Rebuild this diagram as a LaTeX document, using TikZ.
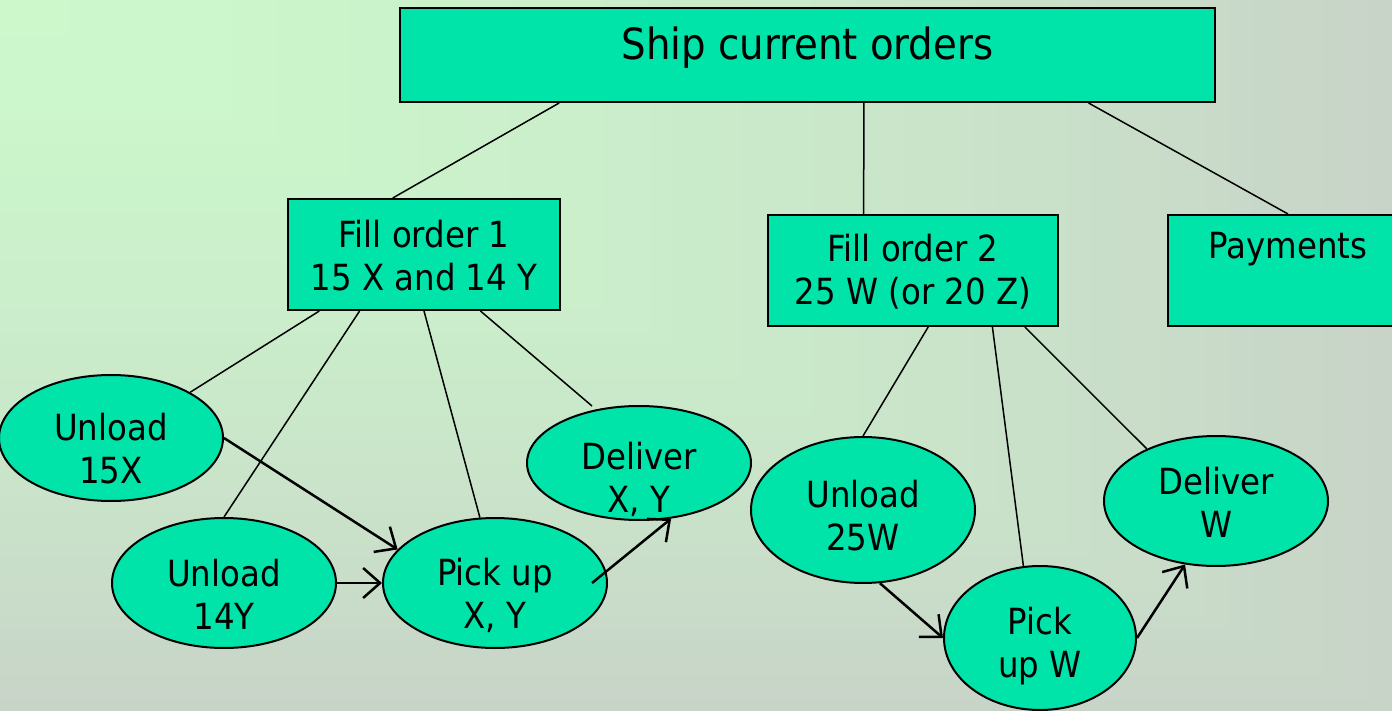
\documentclass[tikz,border=0pt]{standalone}
\usepackage{fontspec}
\setmainfont{DejaVu Sans Condensed}
\usetikzlibrary{calc,shapes.geometric,arrows.meta}
\definecolor{boxfill}{HTML}{00E4AA}
\definecolor{bgstart}{HTML}{CCF8CC}
\definecolor{bgend}{HTML}{C8D4C8}
\tikzset{
  rbox/.style={draw=black, line width=2pt, fill=boxfill, rectangle, inner sep=0pt},
  ell/.style={draw=black, line width=2pt, fill=boxfill, ellipse, inner sep=0pt},
  txt/.style={align=center, font=\fontsize{36}{43}\selectfont, inner sep=0pt},
  bigtxt/.style={align=center, font=\fontsize{43}{50}\selectfont, inner sep=0pt},
  link/.style={draw=black, line width=1.5pt},
  arr/.style={draw=black, line width=2.5pt, -{Straight Barb[length=17pt,width=30pt,line width=2.5pt]}}
}
\begin{document}
\begin{tikzpicture}[x=1pt,y=-1pt]
\useasboundingbox (0,0) rectangle (1392,711);
% corner gradient background
\foreach \i in {60,59,...,1} {
  \pgfmathsetmacro\p{100*(\i/60)^1.5}
  \fill[bgend!\p!bgstart] (0,0) rectangle ({\i*23.2},{\i*11.85});
}

% boxes
\node[rbox, minimum width=815pt, minimum height=94pt] (ship) at (807.5,55) {};
\node[bigtxt] at ($(ship.center)+(0,-7)$) {Ship current orders};
\node[rbox, minimum width=272pt, minimum height=111pt] (f1) at (424,254.5) {};
\node[txt] at ($(f1.center)+(0,1)$) {Fill order 1\\15 X and 14 Y};
\node[rbox, minimum width=290pt, minimum height=111pt] (f2) at (913,270.5) {};
\node[txt] at ($(f2.center)+(0,1)$) {Fill order 2\\25 W (or 20 Z)};
\node[rbox, minimum width=240pt, minimum height=111pt] (pay) at (1288,270.5) {};
\node[txt] at ($(pay.center)+(0,-21)$) {Payments};

% ellipses
\node[ell, minimum width=224pt, minimum height=126pt] (u15) at (111,438) {};
\node[txt] at ($(u15.center)+(0,11)$) {Unload\\15X};
\node[ell, minimum width=224pt, minimum height=130pt] (u14) at (224,583) {};
\node[txt] at ($(u14.center)+(0,11)$) {Unload\\14Y};
\node[ell, minimum width=224pt, minimum height=130pt] (pu) at (495,583) {};
\node[txt] at ($(pu.center)+(0,12)$) {Pick up\\X, Y};
\node[ell, minimum width=224pt, minimum height=114pt] (dxy) at (639,463) {};
\node[txt] at ($(dxy.center)+(0,16)$) {Deliver\\X, Y};
\node[ell, minimum width=224pt, minimum height=146pt] (u25) at (863,510) {};
\node[txt] at ($(u25.center)+(0,6)$) {Unload\\25W};
\node[ell, minimum width=192pt, minimum height=144pt] (pw) at (1040,638) {};
\node[txt] at ($(pw.center)+(0,8)$) {Pick\\up W};
\node[ell, minimum width=224pt, minimum height=130pt] (dw) at (1216,501) {};
\node[txt] at ($(dw.center)+(0,1)$) {Deliver\\W};

% tree links
\draw[link] ($(ship.south west)!0.196!(ship.south east)$) -- ($(f1.north west)!0.386!(f1.north east)$);
\draw[link] ($(ship.south west)!0.569!(ship.south east)$) -- ($(f2.north west)!0.331!(f2.north east)$);
\draw[link] ($(ship.south west)!0.844!(ship.south east)$) -- ($(pay.north west)!0.5!(pay.north east)$);

\draw[link] ($(f1.south west)!0.118!(f1.south east)$) -- (u15.30);
\draw[link] ($(f1.south west)!0.265!(f1.south east)$) -- (u14.north);
\draw[link] ($(f1.south west)!0.5!(f1.south east)$) -- (pu.103);
\draw[link] ($(f1.south west)!0.706!(f1.south east)$) -- ($(dxy.center)+(-47,-57)$);

\draw[link] ($(f2.south west)!0.552!(f2.south east)$) -- (u25.north);
\draw[link] ($(f2.south west)!0.772!(f2.south east)$) -- (pw.103);
\draw[link] ($(f2.south west)!0.883!(f2.south east)$) -- (dw.143);

% arrows
\draw[arr] (u15.east) -- (pu.161);
\draw[arr] (u14.east) -- (pu.west);
\draw[arr] ($(pu.center)+(97,0)$) -- (dxy.-60);
\draw[arr] (u25.-77) -- (pw.west);
\draw[arr] (pw.east) -- (dw.-116);
\end{tikzpicture}
\end{document}
